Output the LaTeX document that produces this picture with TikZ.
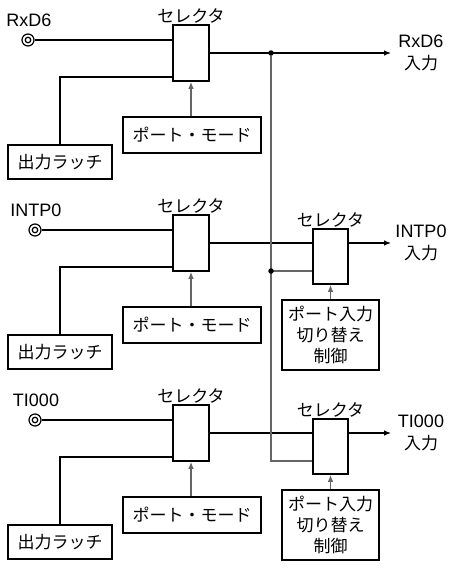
\documentclass[tikz,border=0pt]{standalone}
\usepackage{fontspec}
\setmainfont{Liberation Sans}
\newfontfamily\jp{Noto Sans CJK JP}
\usetikzlibrary{arrows.meta}
\begin{document}
\begin{tikzpicture}[x=1pt,y=-1pt,
  font=\fontsize{18}{21}\selectfont,
  jpf/.style={font=\jp\fontsize{17}{21}\selectfont},
  box/.style={draw, line width=1.6pt, inner sep=0pt, fill=white, align=center, jpf},
  wire/.style={line width=1.15pt, draw=black},
  gwire/.style={line width=1.15pt, draw=black!60},
  arr/.style={-{Latex[length=7pt,width=5.5pt]}},
  pinout/.style={circle, draw, line width=1.2pt, minimum size=12pt, inner sep=0pt, fill=white},
  pinin/.style={circle, draw, line width=1.2pt, minimum size=5.5pt, inner sep=0pt},
  lbl/.style={inner sep=0pt, align=center},
  jlbl/.style={inner sep=0pt, align=center, jpf},
  dot/.style={circle, fill=black, minimum size=5.5pt, inner sep=0pt}]
\useasboundingbox (0,0) rectangle (450,568);

\foreach \i/\dy/\px/\nm in {1/0/28/RxD6, 2/190/35/INTP0, 3/380/35/TI000}{
  % pin
  \node[pinout] (p\i) at (\px,40+\dy) {};
  \node[pinin] (pi\i) at (p\i) {};
  \node[lbl] (pl\i) at (\px+1,20+\dy) {\nm};
  % selector
  \node[box, minimum width=36pt, minimum height=56pt] (s\i) at (191,53+\dy) {};
  \node[jlbl, anchor=south] (sl\i) at ([yshift=1pt]s\i.north) {セレクタ};
  % latch
  \node[box, minimum width=104pt, minimum height=34pt] (l\i) at (60,162+\dy) {出力ラッチ};
  % port mode
  \node[box, minimum width=138pt, minimum height=36pt] (m\i) at (192,135+\dy) {ポート・モード};
  % wires
  \draw[wire] (p\i.east) -- (s\i.west |- p\i);
  \coordinate (lc\i) at (60,77+\dy);
  \draw[wire] (l\i.north) -- (lc\i) -- (s\i.west |- lc\i);
  \draw[gwire, arr] (m\i.north -| s\i.south) -- (s\i.south);
}

% section 1 output
\coordinate (o1) at (391,53);
\node[dot] (d1) at (271,53) {};
\draw[wire, arr] (s1.east |- o1) -- (o1);
\node[lbl] (ol1) at (421,53) {RxD6\\[1pt]{\jp\fontsize{17}{21}\selectfont 入力}};

% sections 2 and 3
\foreach \i/\dy in {2/190, 3/380}{
  \node[box, minimum width=35pt, minimum height=55pt] (t\i) at (330.5,66.5+\dy) {};
  \node[jlbl, anchor=south] (tl\i) at ([yshift=1pt]t\i.north) {セレクタ};
  \node[box, minimum width=97pt, minimum height=70pt] (c\i) at (330.5,145+\dy) {ポート入力\\切り替え\\制御};
  \coordinate (o\i) at (391,53+\dy);
  \draw[wire] (s\i.east |- o\i) -- (t\i.west |- o\i);
  \draw[wire, arr] (t\i.east |- o\i) -- (o\i);
  \draw[gwire, arr] (c\i.north) -- (t\i.south);
}
\node[lbl] (ol2) at (421,243) {INTP0\\[1pt]{\jp\fontsize{17}{21}\selectfont 入力}};
\node[lbl] (ol3) at (421,433) {TI000\\[1pt]{\jp\fontsize{17}{21}\selectfont 入力}};

% shared vertical line
\coordinate (b2) at (271,271);
\coordinate (b3) at (271,461);
\draw[gwire] (d1) -- (b3) -- (t3.west |- b3);
\draw[gwire] (b2) -- (t2.west |- b2);
\node[dot] (d2) at (b2) {};
\end{tikzpicture}
\end{document}
